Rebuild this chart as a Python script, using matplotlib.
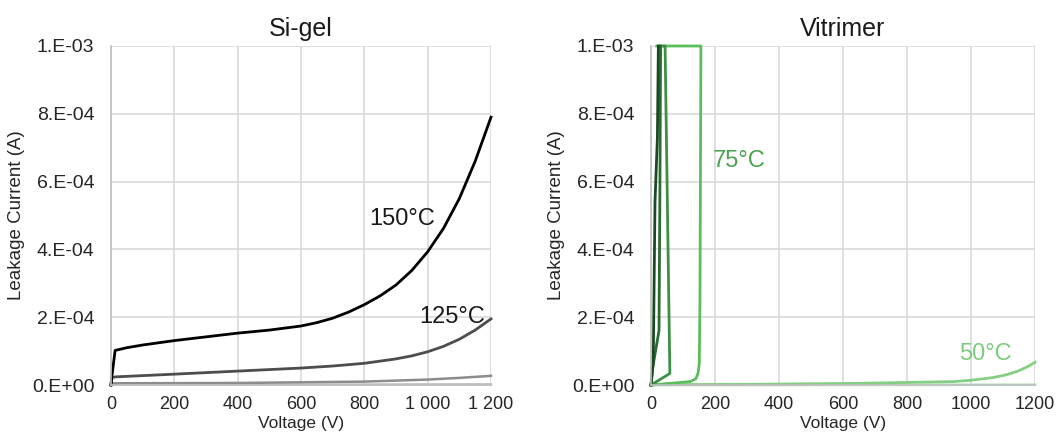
import matplotlib
matplotlib.use("Agg")
import matplotlib.pyplot as plt

plt.rcParams['font.family'] = ['Liberation Sans', 'DejaVu Sans']

# Si-gel curves (V, A)
sigel_150_v = [0, 2, 13, 50, 100, 200, 300, 400, 500, 600, 650, 700, 750, 800, 850, 900, 950, 1000,
               1050, 1100, 1150, 1200]
sigel_150_i = [0, 0.2e-4, 1.02e-4, 1.1e-4, 1.18e-4, 1.31e-4, 1.42e-4, 1.53e-4, 1.62e-4, 1.74e-4,
               1.84e-4, 1.97e-4, 2.15e-4, 2.37e-4, 2.63e-4, 2.95e-4, 3.38e-4, 3.93e-4, 4.62e-4,
               5.5e-4, 6.6e-4, 7.9e-4]
sigel_125_v = [0, 3, 15, 200, 400, 600, 700, 800, 900, 950, 1000, 1050, 1100, 1150, 1200]
sigel_125_i = [0, 2.2e-5, 2.4e-5, 3.2e-5, 4.1e-5, 5.0e-5, 5.6e-5, 6.4e-5, 7.7e-5, 8.6e-5, 9.8e-5,
               1.14e-4, 1.35e-4, 1.62e-4, 1.95e-4]
sigel_100_v = [0, 5, 400, 800, 1000, 1100, 1200]
sigel_100_i = [0, 5e-6, 6e-6, 1e-5, 1.6e-5, 2.1e-5, 2.7e-5]
sigel_75_v = [0, 600, 1200]
sigel_75_i = [1e-6, 1e-6, 2e-6]

# Vitrimer curves (V, A)
vit_150_v = [0, 7, 12.5, 20, 23]
vit_150_i = [0, 0.65e-4, 5.4e-4, 7.3e-4, 1e-3]
vit_125_v = [0, 5, 25, 28, 30]
vit_125_i = [0, 0.5e-4, 1.6e-4, 6e-4, 1e-3]
vit_100_v = [0, 59, 57, 44, 40]
vit_100_i = [0, 3.4e-5, 1.6e-4, 1e-3, 1e-3]
vit_75_v = [0, 122, 140, 147, 151, 153, 156, 150, 18]
vit_75_i = [0, 1e-5, 1.8e-5, 3.5e-5, 6.5e-5, 2.5e-4, 1e-3, 1e-3, 1e-3]
vit_50_v = [0, 300, 653, 944, 1000, 1069, 1110, 1144, 1175, 1200]
vit_50_i = [1e-6, 2e-6, 5e-6, 1e-5, 1.4e-5, 2.2e-5, 3e-5, 4e-5, 5.3e-5, 6.7e-5]
vit_25_v = [0, 1200]
vit_25_i = [0, 1e-6]

y_ticks = [0, 2e-4, 4e-4, 6e-4, 8e-4, 1e-3]
y_labels = ['0.E+00', '2.E-04', '4.E-04', '6.E-04', '8.E-04', '1.E-03']
x_ticks = [0, 200, 400, 600, 800, 1000, 1200]
x_labels_sigel = ['0', '200', '400', '600', '800', '1 000', '1 200']
x_labels_vit = ['0', '200', '400', '600', '800', '1000', '1200']


def style_axes(ax, title, xlabels):
    ax.set_xlim(0, 1200)
    ax.set_ylim(0, 1e-3)
    ax.set_xticks(x_ticks)
    ax.set_xticklabels(xlabels)
    ax.set_yticks(y_ticks)
    ax.set_yticklabels(y_labels)
    ax.grid(True, color='#d9d9d9', linewidth=1.2)
    ax.set_axisbelow(True)
    for s in ['top', 'right']:
        ax.spines[s].set_visible(False)
    for s in ['left', 'bottom']:
        ax.spines[s].set_color('#bfbfbf')
        ax.spines[s].set_linewidth(1.2)
    ax.tick_params(axis='x', length=0, labelsize=13, colors='#262626', pad=8)
    ax.tick_params(axis='y', length=0, labelsize=14, colors='#262626', pad=12)
    ax.set_title(title, fontsize=18, color='#1a1a1a', pad=7)
    ax.set_xlabel('Voltage (V)', fontsize=12.5, color='#262626', labelpad=2)
    ax.set_ylabel('Leakage Current (A)', fontsize=13.5, color='#262626', labelpad=5)


fig = plt.figure(figsize=(10.59, 4.48), dpi=100)
ax1 = fig.add_axes([111 / 1059, 1 - 385 / 448, 380 / 1059, 339 / 448])
ax2 = fig.add_axes([651 / 1059, 1 - 385 / 448, 384 / 1059, 339 / 448])

ax1.plot(sigel_75_v, sigel_75_i, color='#bfbfbf', lw=1.8, clip_on=False)
ax1.plot(sigel_100_v, sigel_100_i, color='#8c8c8c', lw=1.8, clip_on=False)
ax1.plot(sigel_125_v, sigel_125_i, color='#4d4d4d', lw=2, clip_on=False)
ax1.plot(sigel_150_v, sigel_150_i, color='#000000', lw=2, clip_on=False)
ax1.text(919, 4.9e-4, '150°C', fontsize=17, ha='center', va='center', color='#1a1a1a')
ax1.text(1077, 2.0e-4, '125°C', fontsize=17, ha='center', va='center', color='#1a1a1a')
style_axes(ax1, 'Si-gel', x_labels_sigel)

ax2.plot(vit_25_v, vit_25_i, color='#c2e6c2', lw=2, clip_on=False)
ax2.plot(vit_50_v, vit_50_i, color='#85cf85', lw=2, clip_on=False)
ax2.plot(vit_75_v, vit_75_i, color='#5cbd5c', lw=2, clip_on=False)
ax2.plot(vit_100_v, vit_100_i, color='#3d8f43', lw=2, clip_on=False)
ax2.plot(vit_125_v, vit_125_i, color='#2c6b32', lw=2, clip_on=False)
ax2.plot(vit_150_v, vit_150_i, color='#1a4a22', lw=2, clip_on=False)
ax2.text(275, 6.6e-4, '75°C', fontsize=17, ha='center', va='center', color='#4aa34f')
ax2.text(1044, 0.9e-4, '50°C', fontsize=17, ha='center', va='center', color='#7dcc7d')
style_axes(ax2, 'Vitrimer', x_labels_vit)

fig.savefig('out.png', dpi=100)
